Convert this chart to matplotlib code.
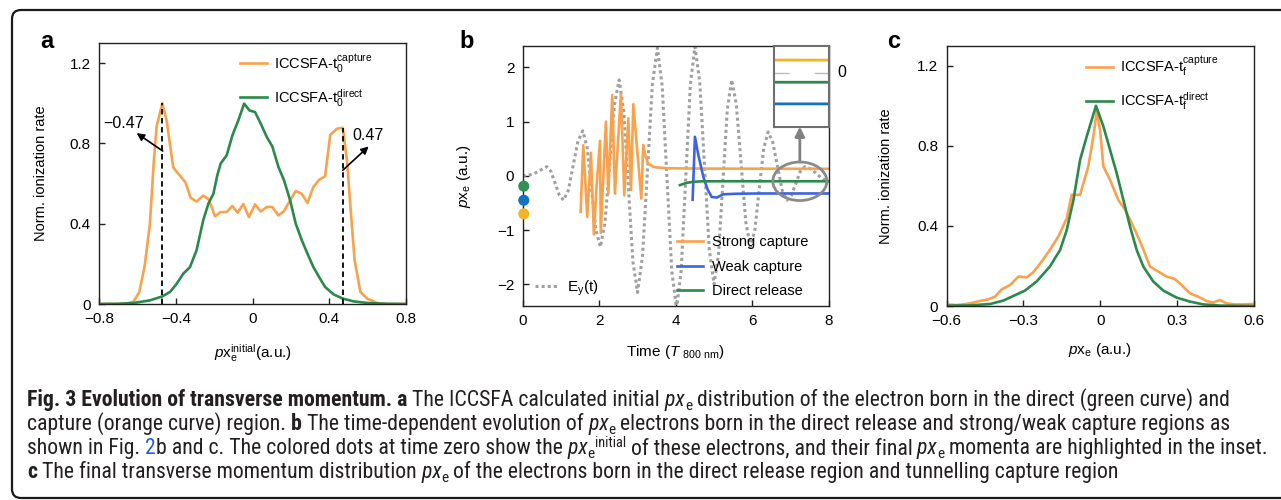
import matplotlib
matplotlib.use('Agg')
import matplotlib.pyplot as plt
from matplotlib import font_manager
from matplotlib.patches import Ellipse, FancyBboxPatch
from matplotlib.transforms import IdentityTransform

plt.rcParams['font.family'] = ['Liberation Sans', 'DejaVu Sans']
plt.rcParams['mathtext.fontset'] = 'custom'
plt.rcParams['mathtext.rm'] = 'Liberation Sans'
plt.rcParams['mathtext.it'] = 'Liberation Sans:italic'
plt.rcParams['mathtext.bf'] = 'Liberation Sans:bold'

ORANGE = '#f9a24e'
GREEN = '#2b8a4b'
BLUE = '#3f63e0'
AMBER = '#f0b424'
DOT_GREEN = '#339056'
DOT_BLUE = '#1174c0'
GRAY = '#a0a0a0'

# ---- panel a: initial px distribution
a_x_cap = [-0.80, -0.70, -0.65, -0.62, -0.59, -0.562, -0.535, -0.514, -0.50, -0.47,
           -0.448, -0.413, -0.379, -0.349, -0.323, -0.292, -0.257, -0.227, -0.196, -0.166,
           -0.135, -0.105, -0.078, -0.048, -0.019, 0.013, 0.043, 0.074, 0.103, 0.135,
           0.164, 0.196, 0.225, 0.257, 0.286, 0.317, 0.347, 0.378, 0.405, 0.44,
           0.47, 0.492, 0.51, 0.532, 0.562, 0.597, 0.65, 0.70, 0.80]
a_y_cap = [0.0, 0.0, 0.003, 0.012, 0.06, 0.19, 0.40, 0.715, 0.885, 1.0,
           0.915, 0.68, 0.64, 0.605, 0.53, 0.51, 0.54, 0.52, 0.437, 0.458,
           0.458, 0.488, 0.455, 0.498, 0.433, 0.496, 0.461, 0.483, 0.483, 0.441,
           0.463, 0.516, 0.563, 0.549, 0.503, 0.583, 0.619, 0.636, 0.843, 0.873,
           0.878, 0.715, 0.483, 0.217, 0.06, 0.027, 0.005, 0.0, 0.0]
a_x_dir = [-0.80, -0.70, -0.62, -0.535, -0.47, -0.43, -0.396, -0.361, -0.326, -0.292,
           -0.257, -0.23, -0.204, -0.184, -0.166, -0.135, -0.105, -0.074, -0.044, -0.016,
           0.013, 0.043, 0.074, 0.103, 0.135, 0.164, 0.196, 0.225, 0.257, 0.286,
           0.317, 0.347, 0.378, 0.422, 0.47, 0.527, 0.60, 0.70, 0.80]
a_y_dir = [0.0, 0.001, 0.005, 0.018, 0.038, 0.06, 0.10, 0.151, 0.184, 0.267,
           0.417, 0.5, 0.549, 0.64, 0.70, 0.74, 0.84, 0.915, 0.998, 0.964,
           0.956, 0.898, 0.832, 0.785, 0.682, 0.616, 0.516, 0.40, 0.317, 0.251,
           0.184, 0.134, 0.085, 0.048, 0.027, 0.013, 0.005, 0.001, 0.0]
a_peaks = [-0.47, 0.47]
a_peak_h = [1.0, 0.878]
a_xticks = [-0.8, -0.4, 0, 0.4, 0.8]
a_xlabels = ['\u22120.8', '\u22120.4', '0', '0.4', '0.8']
a_yticks = [0, 0.4, 0.8, 1.2]
a_ylabels = ['0', '0.4', '0.8', '1.2']

# ---- panel b: time evolution
ey_t = [0.0, 0.15, 0.3, 0.45, 0.63, 0.74, 0.85, 0.96, 1.07, 1.195, 1.32, 1.445, 1.57,
        1.685, 1.80, 1.915, 2.03, 2.15, 2.275, 2.40, 2.52, 2.64, 2.76, 2.88, 3.0,
        3.13, 3.26, 3.39, 3.52, 3.645, 3.77, 3.895, 4.02, 4.14, 4.26, 4.38, 4.5,
        4.625, 4.75, 4.875, 5.0, 5.115, 5.23, 5.345, 5.46, 5.58, 5.705, 5.83, 5.95,
        6.065, 6.18, 6.295, 6.41, 6.53, 6.655, 6.78, 6.9, 7.02, 7.135, 7.25, 7.37,
        7.55, 7.7, 7.85, 8.0]
ey_y = [0.0, 0.01, 0.04, 0.1, 0.17, 0.08, -0.14, -0.36, -0.45, -0.26, 0.19, 0.64, 0.83,
        0.52, -0.24, -1.0, -1.31, -0.86, 0.23, 1.32, 1.77, 1.2, -0.19, -1.58, -2.15,
        -1.49, 0.1, 1.7, 2.36, 1.66, -0.05, -1.75, -2.45, -1.75, -0.04, 1.68, 2.38,
        1.74, 0.19, -1.36, -2.0, -1.45, -0.12, 1.22, 1.77, 1.32, 0.23, -0.86, -1.31,
        -1.0, -0.25, 0.5, 0.81, 0.63, 0.18, -0.27, -0.45, -0.36, -0.14, 0.08, 0.17,
        0.12, 0.02, -0.06, -0.1]
sc_t = [1.515, 1.583, 1.687, 1.784, 1.86, 1.93, 2.02, 2.04, 2.175, 2.237, 2.34, 2.41,
        2.567, 2.654, 2.76, 2.83, 2.89, 3.10, 3.15, 3.2, 3.28, 3.4, 3.5, 3.8, 4.3,
        5.0, 6.0, 7.0, 8.0]
sc_y = [-0.664, 0.566, -0.756, 0.424, -1.08, -0.2, 0.646, -1.05, 1.0, -0.33, 1.49, -0.33,
        1.51, -0.36, 1.06, -0.26, 1.32, -0.42, 0.57, 0.38, 0.23, 0.17, 0.155, 0.14, 0.136,
        0.133, 0.132, 0.131, 0.13]
wc_t = [4.44, 4.5, 4.59, 4.72, 4.83, 4.94, 5.07, 5.24, 5.6, 6.2, 7.0, 8.0]
wc_y = [-0.44, 0.72, 0.38, -0.02, -0.25, -0.39, -0.40, -0.34, -0.33, -0.325, -0.325, -0.325]
dr_t = [4.11, 4.28, 4.45, 4.7, 5.0, 6.0, 7.0, 8.0]
dr_y = [-0.17, -0.13, -0.11, -0.10, -0.1, -0.1, -0.1, -0.1]
init_t = [0.03, 0.03, 0.03]
init_y = [-0.19, -0.45, -0.70]
init_c = [DOT_GREEN, DOT_BLUE, AMBER]
b_xticks = [0, 2, 4, 6, 8]
b_yticks = [-2, -1, 0, 1, 2]
b_ylabels = ['\u22122', '\u22121', '0', '1', '2']

# ---- panel c: final px distribution
c_x_cap = [-0.6, -0.561, -0.522, -0.496, -0.463, -0.437, -0.411, -0.385, -0.352, -0.32,
           -0.288, -0.262, -0.229, -0.197, -0.164, -0.131, -0.112, -0.079, -0.047, -0.027,
           -0.014, -0.001, 0.012, 0.038, 0.07, 0.096, 0.129, 0.161, 0.194, 0.226,
           0.259, 0.291, 0.317, 0.35, 0.382, 0.415, 0.441, 0.467, 0.493, 0.526,
           0.558, 0.6]
c_y_cap = [0.008, 0.005, 0.01, 0.017, 0.027, 0.033, 0.047, 0.083, 0.105, 0.147,
           0.143, 0.168, 0.222, 0.28, 0.347, 0.438, 0.555, 0.555, 0.697, 0.847,
           0.972, 0.88, 0.697, 0.63, 0.53, 0.483, 0.397, 0.305, 0.197, 0.172,
           0.147, 0.135, 0.105, 0.063, 0.047, 0.025, 0.017, 0.03, 0.013, 0.008,
           0.008, 0.01]
c_x_dir = [-0.6, -0.51, -0.43, -0.379, -0.34, -0.294, -0.249, -0.197, -0.157, -0.131,
           -0.105, -0.079, -0.053, -0.017, 0.012, 0.038, 0.064, 0.09, 0.116, 0.142,
           0.168, 0.207, 0.246, 0.298, 0.35, 0.402, 0.467, 0.6]
c_y_dir = [0.002, 0.003, 0.01, 0.027, 0.05, 0.077, 0.122, 0.197, 0.28, 0.38,
           0.53, 0.73, 0.847, 1.0, 0.897, 0.78, 0.663, 0.53, 0.397, 0.28,
           0.197, 0.122, 0.077, 0.042, 0.022, 0.008, 0.002, 0.0]
c_xticks = [-0.6, -0.3, 0, 0.3, 0.6]
c_xlabels = ['\u22120.6', '\u22120.3', '0', '0.3', '0.6']

FS = 10.5
LW = 1.9


def style_ax(ax):
    for sp in ax.spines.values():
        sp.set_linewidth(1.0)
        sp.set_color('#222222')
    ax.tick_params(direction='in', length=4, width=1, labelsize=FS + 0.5, pad=6,
                   color='#222222')


fig = plt.figure(figsize=(12.81, 5.0), dpi=100)

# panel a
ax_a = fig.add_axes([0.0773, 0.392, 0.2397, 0.522])
style_ax(ax_a)
la1, = ax_a.plot(a_x_cap, a_y_cap, color=ORANGE, lw=LW)
la2, = ax_a.plot(a_x_dir, a_y_dir, color=GREEN, lw=LW)
ax_a.vlines(a_peaks, 0, a_peak_h, colors='k', linestyles=(0, (3, 2)), lw=1.3, zorder=3)
ax_a.annotate('', xy=(-0.604, 0.851), xytext=(-0.468, 0.762),
              arrowprops=dict(arrowstyle='-|>', color='k', lw=1.2, mutation_scale=11,
                              shrinkA=0, shrinkB=0))
ax_a.annotate('', xy=(0.605, 0.785), xytext=(0.47, 0.666),
              arrowprops=dict(arrowstyle='-|>', color='k', lw=1.2, mutation_scale=11,
                              shrinkA=0, shrinkB=0))
ax_a.text(-0.671, 0.901, '\u22120.47', fontsize=FS + 1, ha='center', va='center')
ax_a.text(0.601, 0.84, '0.47', fontsize=FS + 1, ha='center', va='center')
ax_a.set_xlim(-0.8, 0.8)
ax_a.set_ylim(0, 1.3)
ax_a.set_xticks(a_xticks, a_xlabels)
ax_a.set_yticks(a_yticks, a_ylabels)
ax_a.set_ylabel('Norm. ionization rate', fontsize=FS)
ax_a.yaxis.set_label_coords(-0.166, 0.5)
ax_a.set_xlabel(r'$\it{p}$x$_{\rm e}^{\rm initial}$(a.u.)', fontsize=FS + 0.5)
ax_a.xaxis.set_label_coords(0.5, -0.188)
ax_a.xaxis.label.set_va('center')
ax_a.legend([la1, la2], [r'ICCSFA-t$_0^{\rm capture}$', r'ICCSFA-t$_0^{\rm direct}$'],
            loc='upper left', bbox_to_anchor=(0.459, 0.965), frameon=False,
            borderpad=0, borderaxespad=0, handlelength=1.85, handletextpad=0.5,
            labelspacing=0.8, fontsize=FS)

# panel b
ax_b = fig.add_axes([0.408, 0.388, 0.2391, 0.5206])
style_ax(ax_b)
ley, = ax_b.plot(ey_t, ey_y, color=GRAY, lw=2.2, linestyle=(0, (1, 1)))
lsc, = ax_b.plot(sc_t, sc_y, color=ORANGE, lw=LW)
lwc, = ax_b.plot(wc_t, wc_y, color=BLUE, lw=LW)
ldr, = ax_b.plot(dr_t, dr_y, color=GREEN, lw=LW)
ax_b.scatter(init_t, init_y, s=64, c=init_c, clip_on=False, zorder=6, linewidths=0)
ax_b.set_xlim(0, 8)
ax_b.set_ylim(-2.4, 2.4)
ax_b.set_xticks(b_xticks)
ax_b.set_yticks(b_yticks, b_ylabels)
ax_b.set_ylabel(r'$\it{p}$x$_{\rm e}$ (a.u.)', fontsize=FS + 0.5)
ax_b.yaxis.set_label_coords(-0.161, 0.5)
ax_b.set_xlabel(r'Time ($\it{T}$ $_{\rm 800\ nm}$)', fontsize=FS + 0.5)
ax_b.xaxis.set_label_coords(0.5, -0.176)
ax_b.xaxis.label.set_va('center')
leg_b = ax_b.legend([lsc, lwc, ldr], ['Strong capture', 'Weak capture', 'Direct release'],
                    loc='lower left', bbox_to_anchor=(0.503, 0.03), frameon=False,
                    borderpad=0, borderaxespad=0, handlelength=1.8, handletextpad=0.6,
                    labelspacing=0.72, fontsize=FS)
ax_b.add_artist(leg_b)
ax_b.legend([ley], [r'E$_{\rm y}$(t)'], loc='lower left', bbox_to_anchor=(0.04, 0.03),
            frameon=False, borderpad=0, borderaxespad=0, handlelength=1.6,
            handletextpad=0.48, fontsize=FS + 0.5)

# highlighted region and inset with final momenta
ell_c, ell_w, ell_h = (7.24, -0.1), 1.41, 0.71
ax_b.add_patch(Ellipse(ell_c, ell_w, ell_h, fill=False, edgecolor='#8a8a8a', lw=2, zorder=5))
ax_b.annotate('', xy=(ell_c[0], 0.689), xycoords=('data', 'axes fraction'),
              xytext=(ell_c[0], ell_c[1] + ell_h / 2), textcoords='data',
              arrowprops=dict(arrowstyle='-|>', color='#808080', lw=2, mutation_scale=14,
                              shrinkA=0, shrinkB=0))
ax_in = ax_b.inset_axes([0.82, 0.689, 0.18, 0.311])
ax_in.plot(sc_t, sc_y, color=AMBER, lw=2)
ax_in.plot(dr_t, dr_y, color=GREEN, lw=2)
ax_in.plot(wc_t, wc_y, color=DOT_BLUE, lw=2)
ax_in.axhline(0, color='#bbbbbb', lw=1, linestyle=(0, (11, 18)))
ax_in.set_xlim(7.0, 8.0)
ax_in.set_ylim(-0.562, 0.28)
ax_in.set_xticks([])
ax_in.set_yticks([])
for sp in ax_in.spines.values():
    sp.set_color('#6e6e6e')
    sp.set_linewidth(1.5)
ax_in.text(1.24, 0, '0', transform=ax_in.get_yaxis_transform(), fontsize=FS + 1,
           ha='center', va='center')

# panel c
ax_c = fig.add_axes([0.739, 0.388, 0.2399, 0.5206])
style_ax(ax_c)
lc1, = ax_c.plot(c_x_cap, c_y_cap, color=ORANGE, lw=LW)
lc2, = ax_c.plot(c_x_dir, c_y_dir, color=GREEN, lw=LW)
ax_c.set_xlim(-0.6, 0.6)
ax_c.set_ylim(0, 1.3)
ax_c.set_xticks(c_xticks, c_xlabels)
ax_c.set_yticks(a_yticks, a_ylabels)
ax_c.set_ylabel('Norm. ionization rate', fontsize=FS)
ax_c.yaxis.set_label_coords(-0.174, 0.5)
ax_c.set_xlabel(r'$\it{p}$x$_{\rm e}$ (a.u.)', fontsize=FS + 0.5)
ax_c.xaxis.set_label_coords(0.5, -0.169)
ax_c.xaxis.label.set_va('center')
ax_c.legend([lc1, lc2], [r'ICCSFA-t$_{\rm f}^{\rm capture}$', r'ICCSFA-t$_{\rm f}^{\rm direct}$'],
            loc='upper left', bbox_to_anchor=(0.453, 0.965), frameon=False,
            borderpad=0, borderaxespad=0, handlelength=1.85, handletextpad=0.5,
            labelspacing=0.8, fontsize=FS)

# panel letters
for lx, letter in [(40, 'a'), (459, 'b'), (887, 'c')]:
    fig.text(lx, 500 - 48, letter, transform=IdentityTransform(), fontsize=17,
             weight='bold', va='baseline', ha='left')

# frame around figure + caption
fig.add_artist(FancyBboxPatch((12, 2), 1400, 488, boxstyle='round,pad=0,rounding_size=9',
                              transform=IdentityTransform(), fill=False, lw=1.6,
                              edgecolor='#1a1a1a'))


# pick a condensed face for the caption, but only one that has a regular/light weight
def _w(f):
    return f.weight if isinstance(f.weight, int) else font_manager.weight_dict.get(f.weight, 400)


fonts = font_manager.fontManager.ttflist
CAP_FONT, CAP_STRETCH, CAP_W = ['Open Sans'], 'normal', 400
choices = [('Liberation Sans Narrow', 'normal'), ('Noto Sans Condensed', 'normal'),
           ('Roboto Condensed', 'normal'), ('Noto Sans', 'condensed'),
           ('Open Sans Condensed', 'normal')]
for nm, st in choices:
    light = [_w(f) for f in fonts if f.name == nm and f.style == 'normal'
             and (st == 'normal' or f.stretch == st) and _w(f) <= 400]
    if light:
        CAP_FONT, CAP_STRETCH, CAP_W = [nm], st, max(light)
        break

caption = [
    [("Fig. 3 Evolution of transverse momentum. a", 'b'), (" The ICCSFA calculated initial", 'n'),
     (" px", 'i'), ("e", 'sub'),
     (" distribution of the electron born in the direct (green curve) and", 'n')],
    [("capture (orange curve) region.", 'n'), (" b", 'b'), (" The time-dependent evolution of", 'n'),
     (" px", 'i'), ("e", 'sub'),
     (" electrons born in the direct release and strong/weak capture regions as", 'n')],
    [("shown in Fig.", 'n'), (" 2", 'link'),
     ("b and c. The colored dots at time zero show the", 'n'), (" px", 'i'), ("e", 'sub'),
     ("initial", 'sup'), (" of these electrons, and their final", 'n'), (" px", 'i'),
     ("e", 'sub'), (" momenta are highlighted in the inset.", 'n')],
    [("c", 'b'), (" The final transverse momentum distribution", 'n'), (" px", 'i'), ("e", 'sub'),
     (" of the electrons born in the direct release region and tunnelling capture region", 'n')],
]
cap_base = [406, 430, 454, 478]


def rich_line(x, base, parts, size):
    r = fig.canvas.get_renderer()
    made = []
    px = size * 100 / 72
    for txt, kind in parts:
        kw = dict(fontsize=size, family=CAP_FONT, fontstretch=CAP_STRETCH,
                  weight=CAP_W, color='#231f20')
        dy = 0
        if kind == 'b':
            kw['weight'] = 'bold'
        elif kind == 'i':
            kw['style'] = 'italic'
        elif kind == 'sub':
            kw['fontsize'] = size * 0.7
            dy = -0.2 * px
        elif kind == 'sup':
            kw['fontsize'] = size * 0.66
            dy = 0.3 * px
        elif kind == 'link':
            kw['color'] = '#2a5bd7'
        t = fig.text(x, 500 - base + dy, txt, transform=IdentityTransform(),
                     ha='left', va='baseline', **kw)
        made.append(t)
        x = t.get_window_extent(r).x1
    return made, x


# scale the caption so that its widest line spans the same width as in the original
size0 = 12.5
widest = 0
for base, parts in zip(cap_base, caption):
    tmp, end = rich_line(27, base, parts, size0)
    widest = max(widest, end - 27)
    for t in tmp:
        t.remove()
cap_size = size0 * 1250 / widest
for base, parts in zip(cap_base, caption):
    rich_line(27, base, parts, cap_size)

fig.savefig('out.png', dpi=100)
